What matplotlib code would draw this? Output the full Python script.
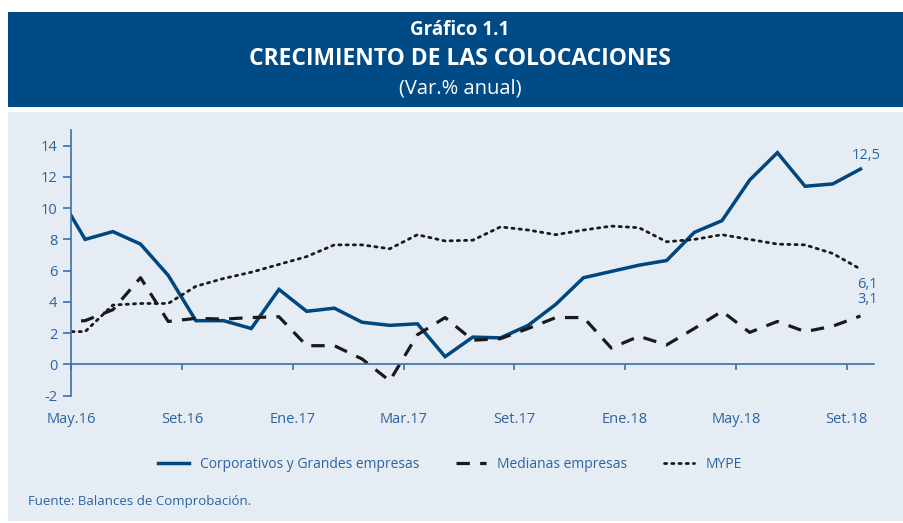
import numpy as np
import matplotlib
matplotlib.use("Agg")
import matplotlib.pyplot as plt
from matplotlib.patches import Rectangle

# datos mensuales Abr.16 - Set.18 (el primer punto queda recortado por el eje)
corporativos = [11.0, 8.0, 8.5, 7.7, 5.7, 2.8, 2.8, 2.3, 4.8, 3.4, 3.6, 2.7, 2.5, 2.6,
                0.5, 1.75, 1.7, 2.5, 3.85, 5.55, 5.95, 6.35, 6.65, 8.45, 9.2, 11.8,
                13.55, 11.4, 11.55, 12.5]
medianas = [2.7, 2.8, 3.5, 5.55, 2.75, 2.95, 2.9, 3.0, 3.05, 1.2, 1.2, 0.35, -1.05, 1.9,
            3.0, 1.55, 1.65, 2.3, 3.0, 3.0, 1.05, 1.8, 1.25, 2.3, 3.4, 2.05, 2.75,
            2.1, 2.45, 3.1]
mype = [2.1, 2.1, 3.8, 3.9, 3.9, 5.0, 5.5, 5.9, 6.4, 6.9, 7.65, 7.65, 7.4, 8.3, 7.9,
        7.95, 8.8, 8.6, 8.3, 8.6, 8.85, 8.75, 7.85, 8.0, 8.3, 8.0, 7.7, 7.65, 7.1, 6.1]
tick_labels = ["May.16", "Set.16", "Ene.17", "Mar.17", "Set.17", "Ene.18", "May.18", "Set.18"]
series_names = ["Corporativos y Grandes empresas", "Medianas empresas", "MYPE"]

BLUE_HDR = "#004a86"
PANEL = "#e5ecf3"
LINE_BLUE = "#00467f"
TXT_BLUE = "#2c64a0"

plt.rcParams['font.family'] = ['Open Sans', 'DejaVu Sans']

W, H = 904, 523
fig = plt.figure(figsize=(W / 100, H / 100), dpi=100)
fig.patch.set_facecolor("white")

# cabecera y panel
fig.patches.append(Rectangle((8 / W, 1 - 107 / H), 1, 95 / H, transform=fig.transFigure,
                             facecolor=BLUE_HDR, edgecolor="none", zorder=-2))
fig.patches.append(Rectangle((8 / W, 1 - 521 / H), 1, 409 / H, transform=fig.transFigure,
                             facecolor=PANEL, edgecolor="none", zorder=-2))

fig.text(0.5 + 8 / W, 1 - 30 / H, "Gráfico 1.1", color="white", fontsize=13.5,
         fontweight="bold", ha="center", va="center")
fig.text(0.5 + 8 / W, 1 - 59 / H, "CRECIMIENTO DE LAS COLOCACIONES", color="white",
         fontsize=16.5, fontweight="bold", ha="center", va="center")
fig.text(0.5 + 8 / W, 1 - 88 / H, "(Var.% anual)", color="white", fontsize=14.5,
         ha="center", va="center")

ax = fig.add_axes([71.3 / W, 1 - 395.7 / H, (874.3 - 71.3) / W, (395.7 - 130) / H])
ax.set_facecolor("none")
ax.set_zorder(3)

x = np.arange(len(corporativos)) - 0.5
l1, = ax.plot(x, corporativos, color=LINE_BLUE, lw=2.5, solid_joinstyle="miter")
l2, = ax.plot(x, medianas, color="#1a1a1a", lw=2.3, linestyle=(0, (4.2, 3.2)))
l3, = ax.plot(x, mype, color="#1a1a1a", lw=2.0, linestyle=(0, (0.8, 1.8)),
              dash_capstyle="round")

ax.set_xlim(0, 29)
ax.set_ylim(-2, 15)
ax.set_yticks(np.arange(-2, 15, 2))
ax.set_xticks(np.arange(0, 29, 4))
ax.set_xticklabels(tick_labels)

for s in ["top", "right"]:
    ax.spines[s].set_visible(False)
ax.spines["bottom"].set_position(("data", 0))
ax.spines["left"].set_bounds(-2, 15)
for s in ["bottom", "left"]:
    ax.spines[s].set_color("#3a70aa")
    ax.spines[s].set_linewidth(1.2)

ax.tick_params(axis="y", direction="out", length=6, width=1.2, color="#3a70aa",
               labelcolor=TXT_BLUE, labelsize=10.5, pad=4)
ax.tick_params(axis="x", direction="out", length=4, width=1.2, color="#3a70aa",
               labelcolor=TXT_BLUE, labelsize=10.5, pad=30)
ax.set_yticklabels([str(v) for v in np.arange(-2, 15, 2)])

# etiquetas de los ultimos valores
fmt = lambda v: f"{v:.1f}".replace(".", ",")
ax.annotate(fmt(corporativos[-1]), (x[-1], corporativos[-1]), xytext=(4, 10),
            textcoords="offset points", color=TXT_BLUE, fontsize=10.5, ha="center",
            va="center")
ax.annotate(fmt(mype[-1]), (x[-1], mype[-1]), xytext=(5, -11),
            textcoords="offset points", color=TXT_BLUE, fontsize=10.5, ha="center",
            va="center")
ax.annotate(fmt(medianas[-1]), (x[-1], medianas[-1]), xytext=(5, 12),
            textcoords="offset points", color=TXT_BLUE, fontsize=10.5, ha="center",
            va="center")

leg = fig.legend([l1, l2, l3], series_names, loc="center", ncol=3,
                 bbox_to_anchor=(0.5 - 2 / W, 1 - 464 / H), frameon=False,
                 fontsize=10, handlelength=2.2, columnspacing=2.6, handletextpad=0.8)
for t in leg.get_texts():
    t.set_color(TXT_BLUE)

fig.text(28 / W, 1 - 501 / H, "Fuente: Balances de Comprobación.", color=TXT_BLUE,
         fontsize=9.5, ha="left", va="center")

fig.savefig("out.png", dpi=100)
